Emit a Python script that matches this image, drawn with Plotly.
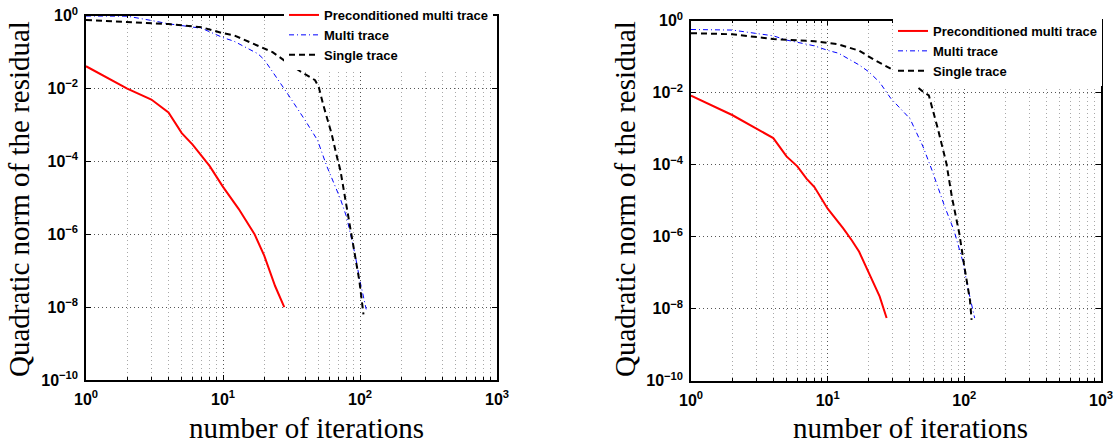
import plotly.graph_objects as go

# ---------------- data ----------------
# Left panel
pre_x_a = [1, 2, 3, 4, 5, 6, 7, 8, 10, 13, 17, 20, 24, 28]
pre_y_a = [4.1e-2, 1.0e-2, 5.0e-3, 2.2e-3, 6.0e-4, 2.9e-4, 1.4e-4, 7.4e-5, 2.0e-5, 5.0e-6, 1.0e-6, 2.6e-7, 3.8e-8, 1.0e-8]

multi_x_a = [1, 2, 3, 4, 7, 10, 12, 15, 18, 20, 23, 29, 40, 49, 57, 72, 80, 92, 100, 111]
multi_y_a = [0.98, 0.97, 0.74, 0.6, 0.45, 0.25, 0.2, 0.13, 0.09, 0.062, 0.029, 8.1e-3, 1.3e-3, 3.8e-4, 7.7e-5, 9.3e-6, 2.9e-6, 2.8e-7, 5.2e-8, 8.7e-9]

single_x_a = [1, 2, 3, 4, 7, 10, 12, 18, 23, 30, 37, 47, 50, 54, 62, 68, 72, 80, 87, 92, 99, 106]
single_y_a = [0.76, 0.66, 0.62, 0.59, 0.48, 0.33, 0.29, 0.15, 0.10, 0.049, 0.029, 0.017, 0.011, 3.5e-3, 5.8e-4, 1.3e-4, 5.6e-5, 5.5e-6, 8.1e-7, 2.3e-7, 5.2e-8, 6.3e-9]

# Right panel
pre_x_b = [1, 2, 4, 5, 6, 7, 8, 10, 13, 15, 17, 20, 24, 27]
pre_y_b = [8.3e-3, 2.4e-3, 5.5e-4, 1.7e-4, 9.0e-5, 4.1e-5, 2.4e-5, 6.0e-6, 1.7e-6, 8.0e-7, 3.8e-7, 9.6e-8, 2.2e-8, 5.5e-9]

multi_x_b = [1, 2, 4, 5, 8, 10, 12, 17, 20, 24, 29, 40, 50, 58, 72, 84, 97, 107, 119]
multi_y_b = [0.57, 0.55, 0.38, 0.29, 0.2, 0.15, 0.125, 0.059, 0.038, 0.0195, 6.9e-3, 1.9e-3, 3.1e-4, 7.0e-5, 6.7e-6, 1.5e-6, 2.2e-7, 3.3e-8, 5.5e-9]

single_x_b = [1, 2, 4, 8, 12, 17, 22, 30, 37, 50, 55, 64, 74, 81, 92, 100, 110, 113]
single_y_b = [0.45, 0.42, 0.31, 0.27, 0.22, 0.147, 0.081, 0.043, 0.028, 0.0105, 8.4e-3, 1.0e-3, 1.07e-4, 1.3e-5, 1.2e-6, 1.5e-7, 1.7e-8, 4.9e-9]

series_names = ["Preconditioned multi trace", "Multi trace", "Single trace"]

x_tick_vals = [1, 10, 100, 1000]
x_tick_text = ["10<sup>0</sup>", "10<sup>1</sup>", "10<sup>2</sup>", "10<sup>3</sup>"]
x_minor_vals = [m * d for d in (1, 10, 100) for m in range(2, 10)]
y_tick_vals = [1, 1e-2, 1e-4, 1e-6, 1e-8, 1e-10]
y_tick_text = ["10<sup>0</sup>", "10<sup>\u22122</sup>", "10<sup>\u22124</sup>",
               "10<sup>\u22126</sup>", "10<sup>\u22128</sup>", "10<sup>\u221210</sup>"]

x_title = "number of iterations"
y_title = "Quadratic norm of the residual"

# ---------------- figure ----------------
W, H = 1117, 446
fig = go.Figure()

styles = [
    dict(color="#ff0000", width=2, dash="solid"),
    dict(color="#0000ff", width=1, dash="5px,3px,1px,3px"),
    dict(color="#000000", width=2, dash="6px,4px"),
]

panel_a = [(pre_x_a, pre_y_a), (multi_x_a, multi_y_a), (single_x_a, single_y_a)]
panel_b = [(pre_x_b, pre_y_b), (multi_x_b, multi_y_b), (single_x_b, single_y_b)]

for (xs, ys), nm, st in zip(panel_a, series_names, styles):
    fig.add_trace(go.Scatter(x=xs, y=ys, name=nm, mode="lines", line=st,
                             xaxis="x", yaxis="y", legend="legend"))
for (xs, ys), nm, st in zip(panel_b, series_names, styles):
    fig.add_trace(go.Scatter(x=xs, y=ys, name=nm, mode="lines", line=st,
                             xaxis="x2", yaxis="y2", legend="legend2"))

tickfont = dict(family="Liberation Sans", size=16, color="black", weight="bold")

def xaxis_cfg(domain, anchor):
    return dict(
        type="log", range=[0, 3], domain=domain, anchor=anchor,
        tickmode="array", tickvals=x_tick_vals, ticktext=x_tick_text,
        tickfont=tickfont, ticks="inside", ticklen=5, tickcolor="black",
        showline=True, linecolor="black", linewidth=1.5, mirror="ticks",
        showgrid=True, gridcolor="#555555", griddash="1px,3px", gridwidth=1,
        minor=dict(tickmode="array", tickvals=x_minor_vals, ticks="inside",
                   ticklen=3, tickcolor="black", showgrid=True,
                   gridcolor="#a8a8a8", griddash="1px,3px", gridwidth=1),
        ticklabelstandoff=4, zeroline=False,
    )

def yaxis_cfg(domain, anchor):
    return dict(
        type="log", range=[-10, 0], domain=domain, anchor=anchor,
        tickmode="array", tickvals=y_tick_vals, ticktext=y_tick_text,
        tickfont=tickfont, ticks="inside", ticklen=5, tickcolor="black",
        showline=True, linecolor="black", linewidth=1.5, mirror="ticks",
        showgrid=True, gridcolor="#555555", griddash="1px,3px", gridwidth=1,
        ticklabelstandoff=3, zeroline=False,
    )

legend_font = dict(family="Liberation Sans", size=13, color="black", weight="bold")

fig.update_layout(
    width=W, height=H,
    margin=dict(l=0, r=0, t=0, b=0, autoexpand=False),
    paper_bgcolor="white", plot_bgcolor="white",
    xaxis=xaxis_cfg([86 / W, 497 / W], "y"),
    yaxis=yaxis_cfg([1 - 380 / H, 1 - 15.7 / H], "x"),
    xaxis2=xaxis_cfg([691 / W, 1101 / W], "y2"),
    yaxis2=yaxis_cfg([1 - 380.7 / H, 1 - 20.7 / H], "x2"),
    legend=dict(x=284 / W, y=1.0, xanchor="left", yanchor="top",
                bgcolor="white", borderwidth=0, font=legend_font),
    legend2=dict(x=893 / W, y=1 - 16 / H, xanchor="left", yanchor="top",
                 bgcolor="white", borderwidth=0, font=legend_font),
    showlegend=True,
)

serif = dict(family="Liberation Serif", size=29, color="black")
fig.add_annotation(text=x_title, xref="paper", yref="paper", x=306 / W, y=1 - 428 / H,
                   xanchor="center", yanchor="middle", showarrow=False, font=serif)
fig.add_annotation(text=x_title, xref="paper", yref="paper", x=910 / W, y=1 - 428 / H,
                   xanchor="center", yanchor="middle", showarrow=False, font=serif)
fig.add_annotation(text=y_title, xref="paper", yref="paper", x=19 / W, y=1 - 199 / H,
                   xanchor="center", yanchor="middle", textangle=-90, showarrow=False, font=serif)
fig.add_annotation(text=y_title, xref="paper", yref="paper", x=625 / W, y=1 - 199 / H,
                   xanchor="center", yanchor="middle", textangle=-90, showarrow=False, font=serif)

# the page's default body margin would shift the figure; remove it
fig.write_html("out.html", config={"displayModeBar": False},
               post_script="document.body.style.margin='0px';")
